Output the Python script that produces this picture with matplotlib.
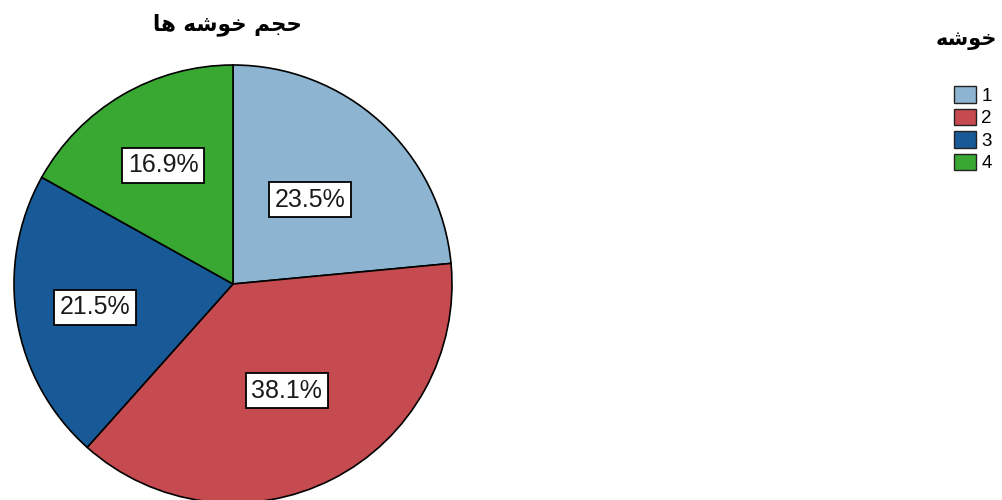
import matplotlib
matplotlib.use("Agg")
import matplotlib.pyplot as plt
from matplotlib.patches import Patch
import numpy as np

# ---- data ----
title_text = "حجم خوشه ها"
legend_title = "خوشه"
categories = ["1", "2", "3", "4"]
percents = [23.5, 38.1, 21.5, 16.9]
pct_labels = ["23.5%", "38.1%", "21.5%", "16.9%"]
colors = ["#8DB4D0", "#C64B50", "#185A98", "#38A832"]
label_radius = [0.52, 0.545, 0.64, 0.63]

# ---- minimal Persian shaping (presentation forms + visual order) ----
FORMS = {
    'ا': ('\uFE8D', '\uFE8E', None, None),
    'ح': ('\uFEA1', '\uFEA2', '\uFEA3', '\uFEA4'),
    'ج': ('\uFE9D', '\uFE9E', '\uFE9F', '\uFEA0'),
    'خ': ('\uFEA5', '\uFEA6', '\uFEA7', '\uFEA8'),
    'م': ('\uFEE1', '\uFEE2', '\uFEE3', '\uFEE4'),
    'و': ('\uFEED', '\uFEEE', None, None),
    'ش': ('\uFEB5', '\uFEB6', '\uFEB7', '\uFEB8'),
    'ه': ('\uFEE9', '\uFEEA', '\uFEEB', '\uFEEC'),
}


def shape(text):
    chars = list(text)
    out = []
    for i, c in enumerate(chars):
        if c not in FORMS:
            out.append(c)
            continue
        prev = chars[i - 1] if i > 0 else None
        nxt = chars[i + 1] if i + 1 < len(chars) else None
        jp = prev in FORMS and FORMS[prev][2] is not None
        jn = nxt in FORMS and FORMS[c][2] is not None
        iso, fin, ini, med = FORMS[c]
        if jp and jn:
            g = med
        elif jp:
            g = fin
        elif jn:
            g = ini
        else:
            g = iso
        out.append(g)
    return ''.join(reversed(out))


W, H = 1002, 500
fig = plt.figure(figsize=(W / 100, H / 100), dpi=100)
fig.patch.set_facecolor("white")

cx, cy, r = 233, 284, 219
ax = fig.add_axes([(cx - r) / W, (H - cy - r) / H, 2 * r / W, 2 * r / H])
wedges, _ = ax.pie(percents, colors=colors, startangle=90, counterclock=False,
                   radius=1.0,
                   wedgeprops=dict(edgecolor="black", linewidth=1.2))
ax.set_xlim(-1.0, 1.0)
ax.set_ylim(-1.0, 1.0)
ax.set_aspect("equal")
ax.axis("off")

for w, lab, fr in zip(wedges, pct_labels, label_radius):
    th = np.deg2rad((w.theta1 + w.theta2) / 2)
    ax.text(fr * np.cos(th), fr * np.sin(th), lab,
            ha="center", va="center", fontsize=18,
            family="Liberation Sans", color="#1a1a1a",
            bbox=dict(boxstyle="square,pad=0.22", facecolor="white",
                      edgecolor="black", linewidth=1.3))

fig.text(227 / W, 1 - 25 / H, shape(title_text), ha="center", va="center",
         fontsize=15.5, fontweight="bold", family="DejaVu Sans")

# legend title
fig.text(966 / W, 1 - 40 / H, shape(legend_title), ha="center", va="center",
         fontsize=15, fontweight="bold", family="DejaVu Sans")

handles = [Patch(facecolor=c, edgecolor="#222222", linewidth=1.0) for c in colors]
leg = fig.legend(handles, categories,
                 loc="upper left", bbox_to_anchor=(954 / W, 1 - 86 / H),
                 frameon=False, handlelength=1.15, handleheight=1.0,
                 handletextpad=0.3, labelspacing=0.2, borderpad=0,
                 borderaxespad=0,
                 prop=dict(family="Liberation Sans", size=13.5))

fig.savefig("out.png", dpi=100, facecolor="white")
